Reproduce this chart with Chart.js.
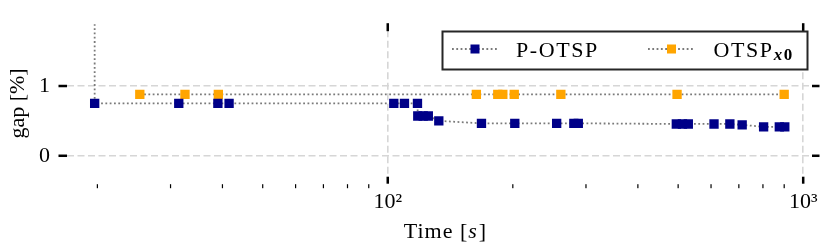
<!DOCTYPE html>
<html><head><meta charset="utf-8">
<script src="https://cdn.jsdelivr.net/npm/chart.js@4/dist/chart.umd.min.js"></script>
<style>html,body{margin:0;padding:0;background:#fff;}#wrap{position:relative;width:830px;height:249px;}canvas{display:block;}
.pre{position:absolute;left:-999px;top:0;font-family:"Liberation Serif";}</style>
</head><body><div id="wrap"><canvas id="c" width="830" height="249"></canvas></div>
<span class="pre">a<i>s</i><b>0</b><b><i>x</i></b></span>
<script>
// ---- data ----
const pOtspTime = [19.7, 19.7, 31.4, 39.0, 41.5, 103.4, 109.7, 117.9, 118.1, 121.7, 125.2, 132.7, 168.1, 202.2, 255, 280.5, 287.5, 495, 512, 529, 610, 666, 713, 803, 876, 903];
const pOtspGap  = [3.0, 0.75, 0.75, 0.75, 0.75, 0.75, 0.75, 0.75, 0.57, 0.57, 0.57, 0.50, 0.465, 0.465, 0.465, 0.465, 0.465, 0.456, 0.456, 0.456, 0.456, 0.456, 0.443, 0.415, 0.415, 0.415];
const otspTime = [25.3, 32.5, 39.1, 163.4, 184, 189.2, 201.6, 261, 497, 900];
const otspGap  = [0.88, 0.88, 0.88, 0.88, 0.88, 0.88, 0.88, 0.88, 0.88, 0.88];
const seriesNames = ['P-OTSP', 'OTSP'];
const xMajorTicks = [100, 1000];
const xTickLabels = ['10\u00B2', '10\u00B3'];
const xMinorTicks = [20, 30, 40, 50, 60, 70, 80, 90, 200, 300, 400, 500, 600, 700, 800, 900];
const yTicks = [0, 1];
const yTickLabels = ['0', '1'];
const xTitle = ['Time [', 's', ']'];
const yTitle = 'gap [%]';

const SERIF = '"Liberation Serif", Tinos, "Times New Roman", serif';
const BLUE = '#000088', ORANGE = '#FFA500', LINE = '#7a7a7a';

const toPts = (xs, ys) => xs.map((t, i) => ({x: t, y: ys[i]}));

const overlay = {
  id: 'overlay',
  afterDraw(chart) {
    const {ctx, chartArea: a, scales: {x, y}} = chart;
    ctx.save();
    ctx.fillStyle = '#000';
    xMajorTicks.forEach(v => {
      const px = x.getPixelForValue(v);
      ctx.fillRect(px - 1.25, a.bottom, 2.5, 7);
      ctx.fillRect(px - 1.25, a.top - 7, 2.5, 8);
    });
    xMinorTicks.forEach(v => {
      const px = x.getPixelForValue(v);
      ctx.fillRect(px - 0.6, a.bottom + 7.5, 1.2, 4);
    });
    yTicks.forEach(v => {
      const py = y.getPixelForValue(v);
      ctx.fillRect(a.left - 8.5, py - 1.25, 8.5, 2.5);
      ctx.fillRect(a.right, py - 1.25, 7.5, 2.5);
    });

    // x title with italic s
    ctx.fillStyle = '#000';
    ctx.textBaseline = 'alphabetic';
    ctx.letterSpacing = '1px';
    const fN = '22px ' + SERIF, fI = 'italic 22px ' + SERIF;
    ctx.font = fN; const w0 = ctx.measureText(xTitle[0]).width;
    ctx.font = fI; const w1 = ctx.measureText(xTitle[1]).width;
    ctx.font = fN; const w2 = ctx.measureText(xTitle[2]).width;
    let tx = 445 - (w0 + w1 + w2) / 2; const ty = 238;
    ctx.font = fN; ctx.fillText(xTitle[0], tx, ty); tx += w0;
    ctx.font = fI; ctx.fillText(xTitle[1], tx, ty); tx += w1 + 1;
    ctx.font = fN; ctx.fillText(xTitle[2], tx, ty);

    // legend
    ctx.letterSpacing = '0px';
    ctx.fillStyle = '#fff';
    ctx.fillRect(442.5, 31.5, 365, 38);
    ctx.strokeStyle = '#262626'; ctx.lineWidth = 2;
    ctx.strokeRect(442.5, 31.5, 365, 38);
    const ly = 49;
    [[452, 497, 475, BLUE], [648, 693, 671.5, ORANGE]].forEach(([x0, x1, mx, col]) => {
      ctx.save();
      ctx.strokeStyle = LINE; ctx.lineWidth = 1.8; ctx.setLineDash([1.8, 2.5]);
      ctx.beginPath(); ctx.moveTo(x0, ly); ctx.lineTo(x1, ly); ctx.stroke();
      ctx.restore();
      ctx.fillStyle = col; ctx.fillRect(mx - 4.5, ly - 4.5, 9, 9);
    });
    ctx.fillStyle = '#000';
    ctx.letterSpacing = '1.6px';
    ctx.font = '22px ' + SERIF;
    ctx.fillText(seriesNames[0], 516, 56.7);
    ctx.fillText(seriesNames[1], 713.5, 56.7);
    const wo = ctx.measureText(seriesNames[1]).width;
    ctx.letterSpacing = '0.5px';
    ctx.font = 'bold italic 17px ' + SERIF;
    ctx.fillText('x', 713.5 + wo, 60);
    const wx = ctx.measureText('x').width;
    ctx.font = 'bold 17px ' + SERIF;
    ctx.fillText('0', 713.5 + wo + wx + 1, 60);
    ctx.restore();
  }
};

function draw() {
new Chart(document.getElementById('c'), {
  type: 'line',
  data: {
    datasets: [
      { label: seriesNames[0], data: toPts(pOtspTime, pOtspGap),
        borderColor: LINE, borderWidth: 1.8, borderDash: [1.8, 2.5], fill: false, tension: 0,
        pointStyle: 'rect', pointRadius: 6.6, pointBorderWidth: 0,
        pointBackgroundColor: BLUE, pointBorderColor: BLUE,
        clip: {left: 10, top: 6, right: 10, bottom: 10} },
      { label: seriesNames[1], data: toPts(otspTime, otspGap),
        borderColor: LINE, borderWidth: 1.8, borderDash: [1.8, 2.5], fill: false, tension: 0,
        pointStyle: 'rect', pointRadius: 6.6, pointBorderWidth: 0,
        pointBackgroundColor: ORANGE, pointBorderColor: ORANGE,
        clip: {left: 10, top: 6, right: 10, bottom: 10} }
    ]
  },
  options: {
    responsive: false, animation: false, devicePixelRatio: 1,
    layout: { padding: {left: 0, right: 18, top: 27, bottom: 0} },
    plugins: { legend: {display: false}, tooltip: {enabled: false} },
    scales: {
      x: {
        type: 'logarithmic', position: 'bottom', min: 16.9, max: 1050,
        afterBuildTicks: s => { s.ticks = xMajorTicks.map(v => ({value: v})); },
        afterFit: s => { s.height = 72.3; },
        ticks: { color: '#000', font: {family: SERIF, size: 22}, padding: 12, maxRotation: 0,
                 callback: (v) => { const i = xMajorTicks.indexOf(v); return i >= 0 ? xTickLabels[i] : ''; } },
        grid: { color: '#d6d6d6', lineWidth: 1.6, drawTicks: false },
        border: { display: false, dash: [7, 3.5] }
      },
      y: {
        type: 'linear', position: 'left', min: -0.3, max: 1.8,
        afterBuildTicks: s => { s.ticks = yTicks.map(v => ({value: v})); },
        afterFit: s => { s.width = 67; },
        ticks: { color: '#000', font: {family: SERIF, size: 22}, padding: 17,
                 callback: (v) => { const i = yTicks.indexOf(v); return i >= 0 ? yTickLabels[i] : ''; } },
        title: { display: true, text: yTitle, color: '#000', font: {family: SERIF, size: 22}, padding: {top: 5, bottom: 0} },
        grid: { color: '#d6d6d6', lineWidth: 1.6, drawTicks: false },
        border: { display: false, dash: [7, 3.5] }
      }
    }
  },
  plugins: [overlay]
});
}
Promise.all([
  document.fonts.load('22px "Liberation Serif"'),
  document.fonts.load('italic 22px "Liberation Serif"'),
  document.fonts.load('bold 17px "Liberation Serif"'),
  document.fonts.load('bold italic 17px "Liberation Serif"')
]).then(draw, draw);
</script></body></html>
